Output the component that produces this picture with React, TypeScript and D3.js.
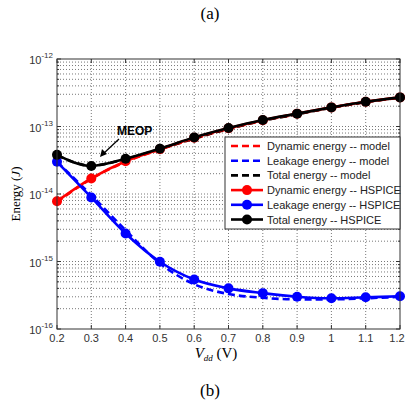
import React, { useEffect, useRef } from 'react';
import * as d3 from 'd3';

// supply voltage (V)
const vdd = [0.2, 0.3, 0.4, 0.5, 0.6, 0.7, 0.8, 0.9, 1.0, 1.1, 1.2];
const xTicks = ['0.2', '0.3', '0.4', '0.5', '0.6', '0.7', '0.8', '0.9', '1', '1.1', '1.2'];

// energy in J
const dynModel = [7.6e-15, 1.68e-14, 3.0e-14, 4.55e-14, 6.6e-14, 9.2e-14, 1.22e-13, 1.52e-13, 1.9e-13, 2.3e-13, 2.68e-13];
const leakModel = [3.0e-14, 9.6e-15, 2.9e-15, 9.4e-16, 4.6e-16, 3.3e-16, 2.9e-16, 2.75e-16, 2.75e-16, 2.85e-16, 3.0e-16];
const totalModel = [3.75e-14, 2.64e-14, 3.3e-14, 4.65e-14, 6.65e-14, 9.25e-14, 1.22e-13, 1.52e-13, 1.9e-13, 2.3e-13, 2.68e-13];

const dynHspice = [7.8e-15, 1.7e-14, 3.05e-14, 4.6e-14, 6.8e-14, 9.4e-14, 1.24e-13, 1.55e-13, 1.92e-13, 2.33e-13, 2.7e-13];
const leakHspice = [3.0e-14, 8.9e-15, 2.6e-15, 9.9e-16, 5.4e-16, 4.0e-16, 3.4e-16, 3.0e-16, 2.85e-16, 2.95e-16, 3.05e-16];
const totalHspice = [3.8e-14, 2.6e-14, 3.33e-14, 4.7e-14, 6.9e-14, 9.5e-14, 1.25e-13, 1.55e-13, 1.92e-13, 2.33e-13, 2.7e-13];

const decades = [-16, -15, -14, -13, -12];

const legendItems = [
  { label: 'Dynamic energy -- model', color: '#ff0000', dashed: true },
  { label: 'Leakage energy -- model', color: '#0000ff', dashed: true },
  { label: 'Total energy -- model', color: '#000000', dashed: true },
  { label: 'Dynamic energy -- HSPICE', color: '#ff0000', dashed: false },
  { label: 'Leakage energy -- HSPICE', color: '#0000ff', dashed: false },
  { label: 'Total energy -- HSPICE', color: '#000000', dashed: false },
];

export default function App() {
  const ref = useRef<SVGSVGElement>(null);

  useEffect(() => {
    const svg = d3.select(ref.current);
    svg.selectAll('*').remove();

    const left = 57, right = 400, top = 59, bottom = 329;
    const x = d3.scaleLinear().domain([0.2, 1.2]).range([left, right]);
    const y = d3.scaleLog().domain([1e-16, 1e-12]).range([bottom, top]);

    const sans = 'Liberation Sans, Arial, sans-serif';
    const serif = 'Liberation Serif, Times New Roman, serif';

    // grid
    const grid = svg.append('g');
    vdd.slice(1, -1).forEach(v => {
      grid.append('line')
        .attr('x1', x(v)).attr('x2', x(v)).attr('y1', top).attr('y2', bottom)
        .attr('stroke', '#555').attr('stroke-width', 0.8).attr('stroke-dasharray', '1,2');
    });
    decades.slice(0, -1).forEach(d => {
      for (let m = 1; m <= 9; m++) {
        const val = m * Math.pow(10, d);
        if (m === 1 && d === -16) continue;
        grid.append('line')
          .attr('x1', left).attr('x2', right).attr('y1', y(val)).attr('y2', y(val))
          .attr('stroke', '#555').attr('stroke-width', 0.8).attr('stroke-dasharray', '1,2');
      }
    });

    // ticks (inside)
    const ticks = svg.append('g').attr('stroke', '#333').attr('stroke-width', 1);
    vdd.forEach(v => {
      ticks.append('line').attr('x1', x(v)).attr('x2', x(v)).attr('y1', bottom).attr('y2', bottom - 4);
      ticks.append('line').attr('x1', x(v)).attr('x2', x(v)).attr('y1', top).attr('y2', top + 4);
    });
    decades.forEach(d => {
      for (let m = 1; m <= 9; m++) {
        const val = m * Math.pow(10, d);
        if (val > 1e-12) break;
        const len = m === 1 ? 4 : 2;
        ticks.append('line').attr('x1', left).attr('x2', left + len).attr('y1', y(val)).attr('y2', y(val));
        ticks.append('line').attr('x1', right).attr('x2', right - len).attr('y1', y(val)).attr('y2', y(val));
      }
    });

    // lines
    const line = (vals: number[]) => d3.line<number>()
      .x((d, i) => x(vdd[i]))
      .y(d => y(d))
      .curve(d3.curveMonotoneX)(vals);

    const plot = svg.append('g');
    [[dynModel, '#ff0000'], [leakModel, '#0000ff'], [totalModel, '#000000']].forEach(([vals, c]) => {
      plot.append('path').attr('d', line(vals as number[]))
        .attr('fill', 'none').attr('stroke', c as string).attr('stroke-width', 2.6)
        .attr('stroke-dasharray', '7,4');
    });
    [[dynHspice, '#ff0000'], [leakHspice, '#0000ff'], [totalHspice, '#000000']].forEach(([vals, c]) => {
      const vs = vals as number[];
      plot.append('path').attr('d', line(vs))
        .attr('fill', 'none').attr('stroke', c as string).attr('stroke-width', 2.6);
      plot.selectAll(null).data(vs).enter().append('circle')
        .attr('cx', (d, i) => x(vdd[i])).attr('cy', d => y(d)).attr('r', 5)
        .attr('fill', c as string);
    });

    // box
    svg.append('rect').attr('x', left).attr('y', top).attr('width', right - left).attr('height', bottom - top)
      .attr('fill', 'none').attr('stroke', '#333').attr('stroke-width', 1);

    // x tick labels (last one nudged so it stays inside the page)
    svg.append('g').selectAll('text').data(xTicks).enter().append('text')
      .attr('x', (d, i) => x(vdd[i]) - (i === xTicks.length - 1 ? 3 : 0)).attr('y', 342)
      .attr('text-anchor', 'middle').attr('font-family', sans).attr('font-size', 11).attr('fill', '#333')
      .text(d => d);

    // y tick labels
    decades.forEach(d => {
      const t = svg.append('text').attr('x', 53).attr('y', y(Math.pow(10, d)) + 5)
        .attr('text-anchor', 'end').attr('font-family', sans).attr('font-size', 11).attr('fill', '#333');
      t.append('tspan').text('10');
      t.append('tspan').attr('dy', -6).attr('font-size', 8).text(String(d));
    });

    // axis labels
    const yl = svg.append('text')
      .attr('transform', `translate(20, ${(top + bottom) / 2}) rotate(-90)`)
      .attr('text-anchor', 'middle').attr('font-family', serif).attr('font-size', 13).attr('fill', '#000');
    yl.append('tspan').text('Energy (');
    yl.append('tspan').attr('font-style', 'italic').text('J');
    yl.append('tspan').text(')');

    const xl = svg.append('text').attr('x', 216).attr('y', 358)
      .attr('text-anchor', 'middle').attr('font-family', serif).attr('font-size', 15).attr('fill', '#000');
    xl.append('tspan').attr('font-style', 'italic').text('V');
    xl.append('tspan').attr('font-style', 'italic').attr('font-size', 9).attr('dy', 3).text('dd');
    xl.append('tspan').attr('dy', -3).text(' (V)');

    svg.append('text').attr('x', 210).attr('y', 19).attr('text-anchor', 'middle')
      .attr('font-family', serif).attr('font-size', 17).text('(a)');
    svg.append('text').attr('x', 210).attr('y', 396).attr('text-anchor', 'middle')
      .attr('font-family', serif).attr('font-size', 17).text('(b)');

    // MEOP annotation
    svg.append('text').attr('x', 117).attr('y', 135)
      .attr('font-family', sans).attr('font-weight', 'bold').attr('font-size', 12).text('MEOP');
    svg.append('line').attr('x1', 119).attr('y1', 139).attr('x2', 103).attr('y2', 154)
      .attr('stroke', '#000').attr('stroke-width', 1.3);
    svg.append('path').attr('d', 'M100,157 L102,149 L107,154 Z').attr('fill', '#000');

    // legend
    const lg = svg.append('g');
    lg.append('rect').attr('x', 225).attr('y', 137).attr('width', 175).attr('height', 92)
      .attr('fill', '#fff').attr('stroke', '#333').attr('stroke-width', 1);
    legendItems.forEach((it, i) => {
      const ly = 146 + i * 14.7;
      lg.append('line').attr('x1', 231).attr('x2', 263).attr('y1', ly).attr('y2', ly)
        .attr('stroke', it.color).attr('stroke-width', 2.6)
        .attr('stroke-dasharray', it.dashed ? '7,4' : null);
      if (!it.dashed) {
        lg.append('circle').attr('cx', 247).attr('cy', ly).attr('r', 5).attr('fill', it.color);
      }
      lg.append('text').attr('x', 267).attr('y', ly + 4)
        .attr('font-family', sans).attr('font-size', 11).attr('fill', '#222').text(it.label);
    });
  }, []);

  return (
    <svg ref={ref} width={406} height={404}
      style={{ position: 'absolute', left: 0, top: 0, background: '#fff' }} />
  );
}
